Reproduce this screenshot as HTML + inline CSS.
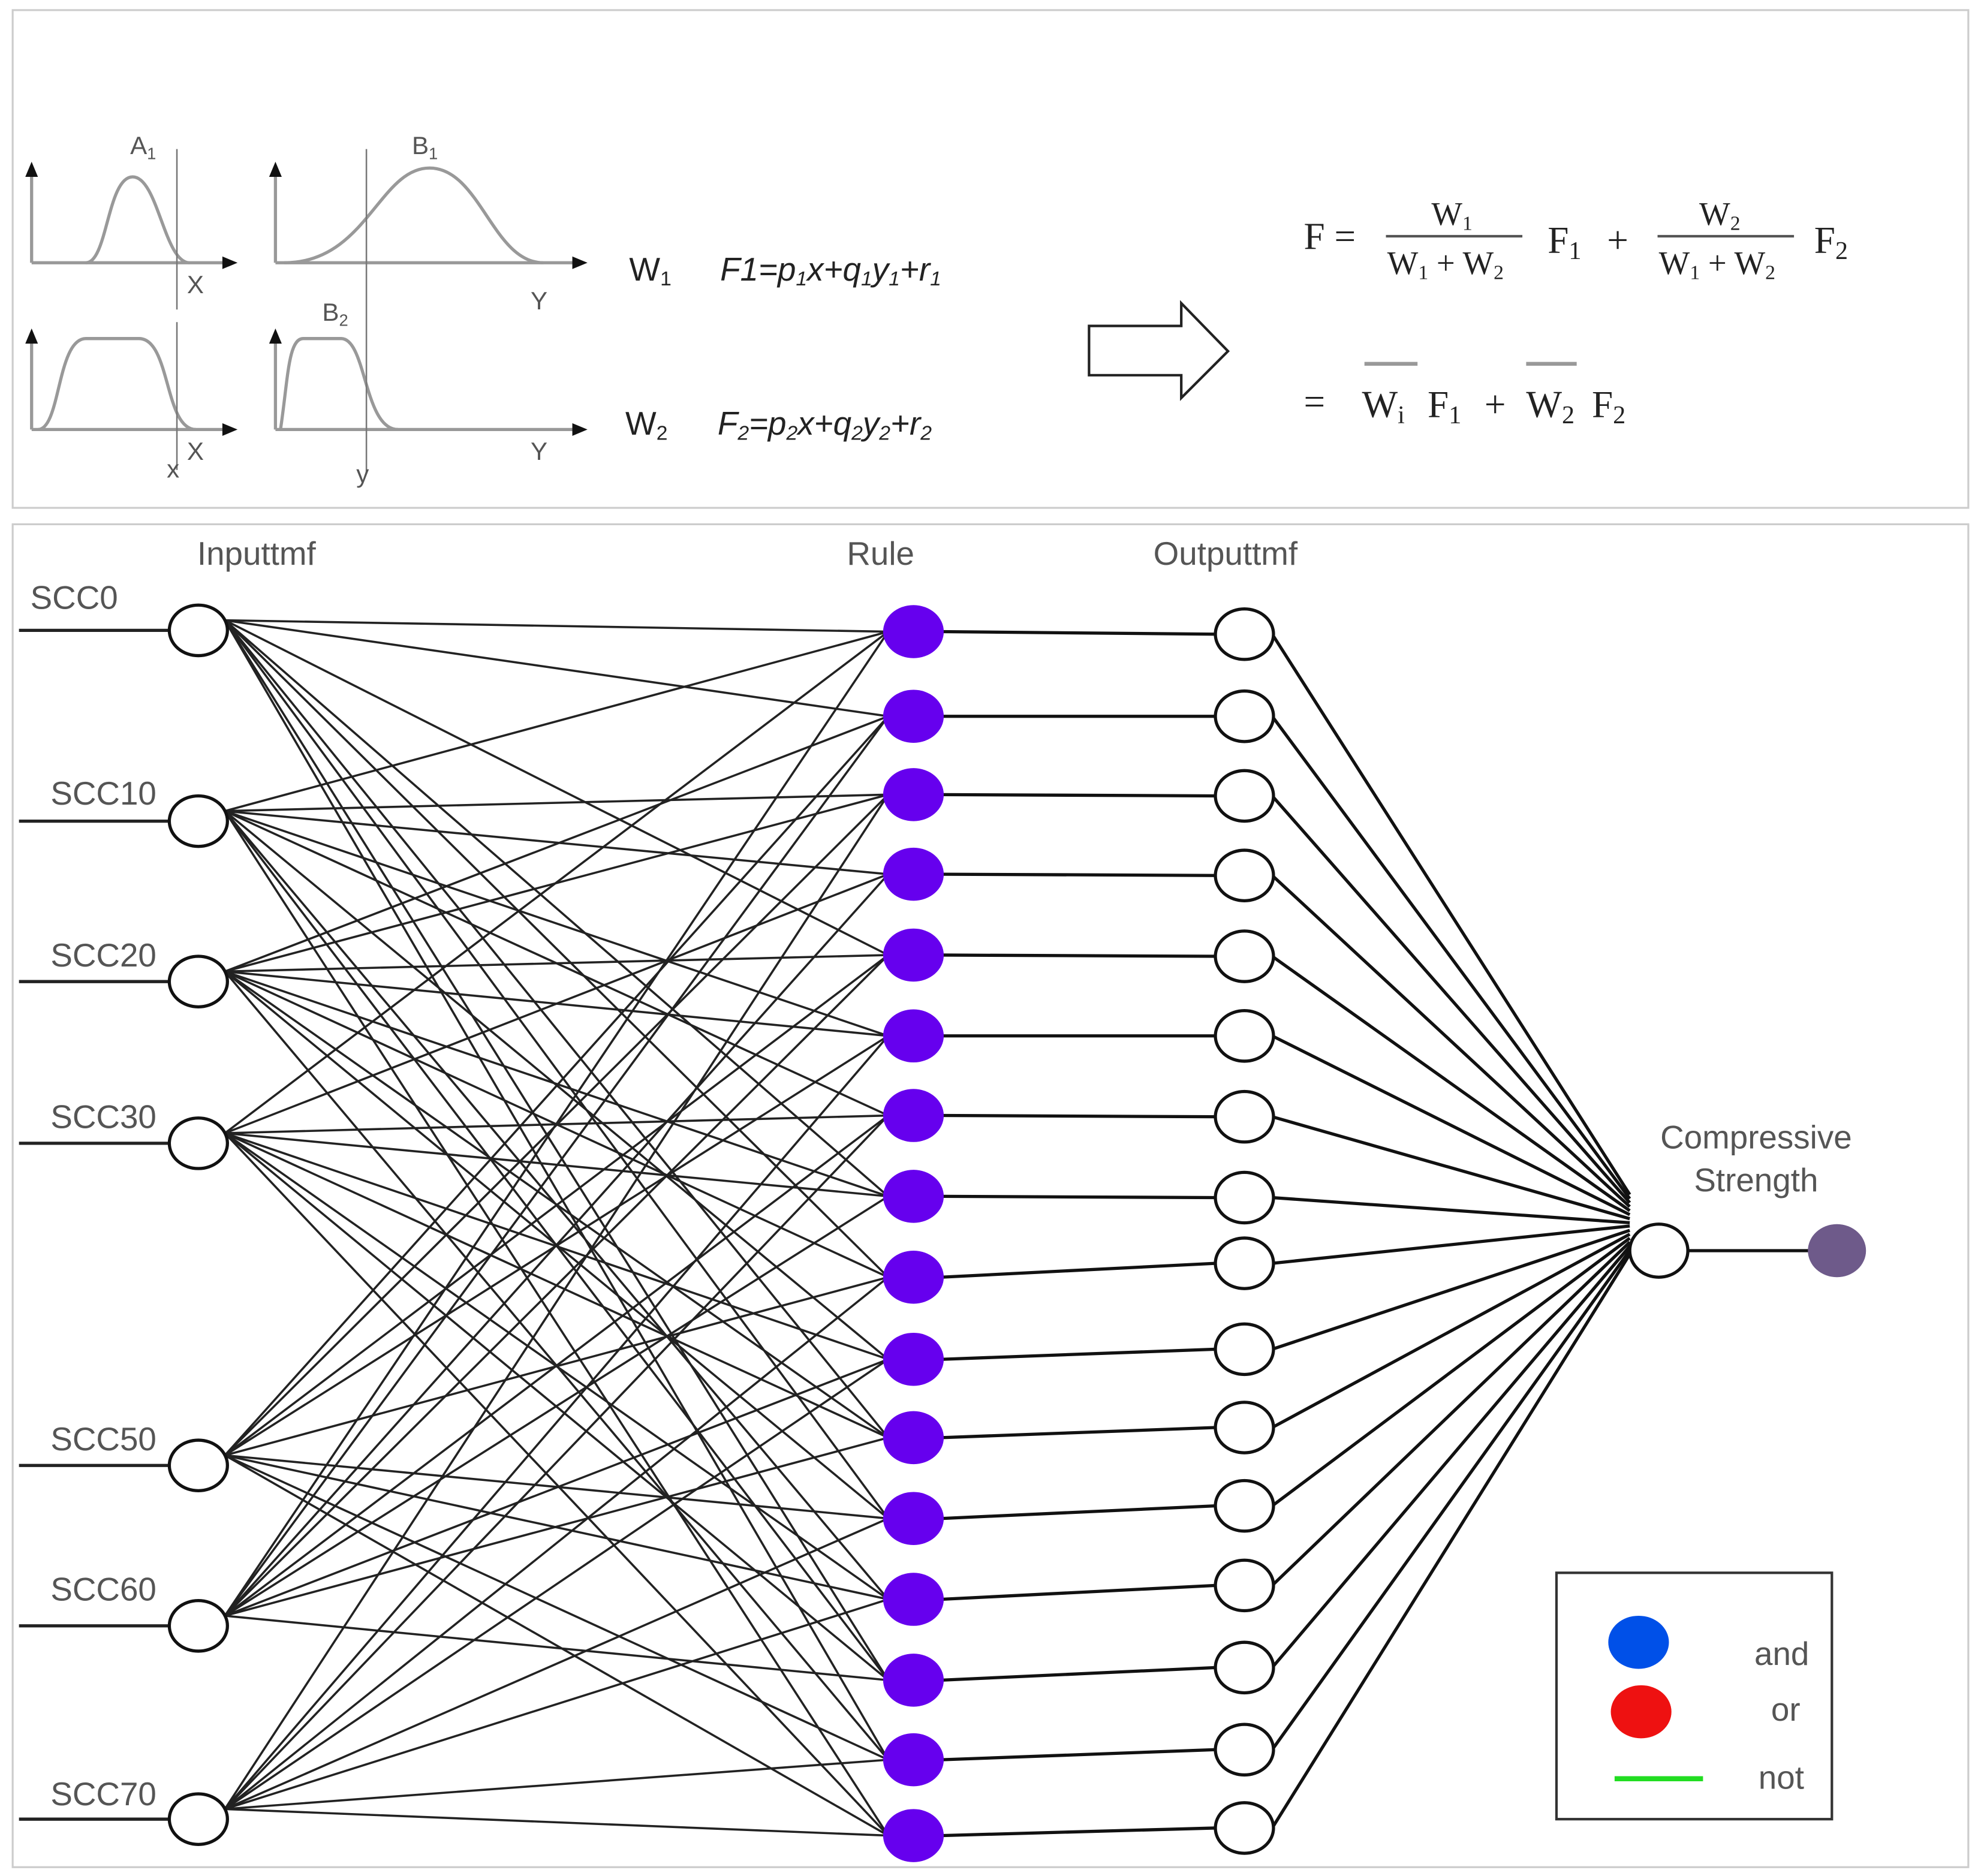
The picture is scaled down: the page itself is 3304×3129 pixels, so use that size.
<!DOCTYPE html>
<html><head><meta charset="utf-8"><style>
html,body{margin:0;padding:0;background:#fff;}
svg{display:block}
.t{font-family:"Liberation Sans",sans-serif;fill:#555;}
.s{font-family:"Liberation Serif",serif;fill:#222;}
</style></head><body>
<svg id="g" xmlns="http://www.w3.org/2000/svg" width="3304" height="3129" viewBox="0 0 1568 1485">
<rect x="0" y="0" width="1568" height="1485" fill="#fff"/>
<rect x="10" y="8" width="1548" height="394" fill="none" stroke="#ccc" stroke-width="1.5"/>
<rect x="10" y="415" width="1548" height="1063" fill="none" stroke="#ccc" stroke-width="1.5"/>
<g stroke="#999" stroke-width="2.5" fill="none">
<path d="M25 208 H180 M25 208 V138 M218 208 H455 M218 208 V138 M25 340 H180 M25 340 V270 M218 340 H455 M218 340 V270"/>
<path d="M68 208 C85 208 85 140 105 140 C125 140 130 208 150 208"/>
<path d="M225 208 C290 208 300 133 340 133 C380 133 390 208 430 208"/>
<path d="M30 340 C48 340 45 268 68 268 L110 268 C135 268 130 340 155 340"/>
<path d="M222 340 C228 300 228 268 240 268 L270 268 C290 268 288 340 315 340"/>
</g>
<g stroke="#777" stroke-width="1.2"><path d="M140 118 V245 M140 255 V372 M290 118 V375"/></g>
<g fill="#111"><path d="M25 128 l-5 12 h10z M218 128 l-5 12 h10z M25 260 l-5 12 h10z M218 260 l-5 12 h10z M188 208 l-12 -5 v10z M465 208 l-12 -5 v10z M188 340 l-12 -5 v10z M465 340 l-12 -5 v10z"/></g>
<g class="t" font-size="20"><text x="103" y="122">A<tspan font-size="13" dy="4">1</tspan></text><text x="326" y="122">B<tspan font-size="13" dy="4">1</tspan></text><text x="255" y="254">B<tspan font-size="13" dy="4">2</tspan></text>
<text x="148" y="232">X</text><text x="420" y="245">Y</text><text x="148" y="364">X</text><text x="132" y="378">x</text><text x="282" y="382">y</text><text x="420" y="364">Y</text></g>
<g class="t" font-size="26" style="fill:#222"><text x="498" y="222">W<tspan font-size="16" dy="4">1</tspan></text>
<text x="570" y="222" font-style="italic">F1=p<tspan font-size="16" dy="4">1</tspan><tspan dy="-4">x+q</tspan><tspan font-size="16" dy="4">1</tspan><tspan dy="-4">y</tspan><tspan font-size="16" dy="4">1</tspan><tspan dy="-4">+r</tspan><tspan font-size="16" dy="4">1</tspan></text>
<text x="495" y="344">W<tspan font-size="16" dy="4">2</tspan></text>
<text x="568" y="344" font-style="italic">F<tspan font-size="16" dy="4">2</tspan><tspan dy="-4">=p</tspan><tspan font-size="16" dy="4">2</tspan><tspan dy="-4">x+q</tspan><tspan font-size="16" dy="4">2</tspan><tspan dy="-4">y</tspan><tspan font-size="16" dy="4">2</tspan><tspan dy="-4">+r</tspan><tspan font-size="16" dy="4">2</tspan></text></g>
<path d="M862 258 H935 V240 L972 278 L935 315 V297 H862 Z" fill="#fff" stroke="#222" stroke-width="2"/>
<g class="s" font-size="30">
<text x="1032" y="197">F =</text>
<text x="1133" y="178" font-size="26">W<tspan font-size="16" dy="4">1</tspan></text>
<line x1="1097" y1="187" x2="1205" y2="187" stroke="#555" stroke-width="2"/>
<text x="1098" y="217" font-size="26">W<tspan font-size="16" dy="4">1</tspan><tspan dy="-4"> + W</tspan><tspan font-size="16" dy="4">2</tspan></text>
<text x="1225" y="200">F<tspan font-size="20" dy="5">1</tspan></text>
<text x="1272" y="200">+</text>
<text x="1345" y="178" font-size="26">W<tspan font-size="16" dy="4">2</tspan></text>
<line x1="1312" y1="187" x2="1420" y2="187" stroke="#555" stroke-width="2"/>
<text x="1313" y="217" font-size="26">W<tspan font-size="16" dy="4">1</tspan><tspan dy="-4"> + W</tspan><tspan font-size="16" dy="4">2</tspan></text>
<text x="1436" y="200">F<tspan font-size="20" dy="5">2</tspan></text>
<text x="1032" y="328">=</text>
<text x="1078" y="330">W<tspan font-size="20" dy="5">i</tspan></text>
<text x="1130" y="330">F<tspan font-size="20" dy="5">1</tspan></text>
<text x="1175" y="330">+</text>
<text x="1208" y="330">W<tspan font-size="20" dy="5">2</tspan></text>
<text x="1260" y="330">F<tspan font-size="20" dy="5">2</tspan></text>
<line x1="1080" y1="288" x2="1122" y2="288" stroke="#999" stroke-width="3"/>
<line x1="1208" y1="288" x2="1248" y2="288" stroke="#999" stroke-width="3"/>
</g>
<g id="lines"></g>
<g id="nodes"></g>
<g class="t" font-size="26">
<text x="203" y="447" text-anchor="middle">Inputtmf</text>
<text x="697" y="447" text-anchor="middle">Rule</text>
<text x="970" y="447" text-anchor="middle">Outputtmf</text>
<text x="1390" y="909" text-anchor="middle">Compressive</text>
<text x="1390" y="943" text-anchor="middle">Strength</text>
<text x="24" y="482">SCC0</text><text x="40" y="637">SCC10</text><text x="40" y="765">SCC20</text><text x="40" y="893">SCC30</text>
<text x="40" y="1148">SCC50</text><text x="40" y="1267">SCC60</text><text x="40" y="1429">SCC70</text>
</g>
<rect x="1232" y="1245" width="218" height="195" fill="#fff" stroke="#333" stroke-width="2"/>
<ellipse cx="1297" cy="1300" rx="24" ry="21" fill="#0050e8"/>
<ellipse cx="1299" cy="1355" rx="24" ry="21" fill="#ee1111"/>
<line x1="1278" y1="1408" x2="1348" y2="1408" stroke="#22dd22" stroke-width="4"/>
<g class="t" font-size="26"><text x="1432" y="1318" text-anchor="end">and</text><text x="1425" y="1362" text-anchor="end">or</text><text x="1428" y="1416" text-anchor="end">not</text></g>
</svg>
<script>
var NS="http://www.w3.org/2000/svg";
var L=document.getElementById("lines"),N=document.getElementById("nodes");
function el(t,a,p){var e=document.createElementNS(NS,t);for(var k in a)e.setAttribute(k,a[k]);p.appendChild(e);return e;}
var inY=[499,650,777,905,1160,1287,1440];
var rY=[500,567,629,692,756,820,883,947,1011,1076,1138,1202,1266,1330,1393,1453];
var oY=[502,567,630,693,757,820,884,948,1000,1068,1130,1192,1255,1320,1385,1447];
inY.forEach(function(y,i){
 el("line",{x1:15,y1:y,x2:133,y2:y,stroke:"#222","stroke-width":2.5},L);
 for(var j=0;j<16;j++){
  if((j*5+i*7)%16<9 || (i==0&&j==0) || (i==6&&j==15)){
   el("line",{x1:178,y1:y-8,x2:703,y2:rY[j],stroke:"#222","stroke-width":1.7},L);
  }
 }
});
rY.forEach(function(y,j){
 el("line",{x1:745,y1:y,x2:962,y2:oY[j],stroke:"#111","stroke-width":2.5},L);
});
oY.forEach(function(y){
 el("line",{x1:1007,y1:y,x2:1290,y2:970+ (y-990)*0.05,stroke:"#111","stroke-width":2.5},L);
});
el("line",{x1:1336,y1:990,x2:1432,y2:990,stroke:"#111","stroke-width":2.5},L);
inY.forEach(function(y){el("ellipse",{cx:157,cy:y,rx:23,ry:20,fill:"#fff",stroke:"#111","stroke-width":2.5},N);});
rY.forEach(function(y){el("ellipse",{cx:723,cy:y,rx:24,ry:21,fill:"#6600ee"},N);});
oY.forEach(function(y){el("ellipse",{cx:985,cy:y,rx:23,ry:20,fill:"#fff",stroke:"#111","stroke-width":2.5},N);});
el("ellipse",{cx:1313,cy:990,rx:23,ry:21,fill:"#fff",stroke:"#111","stroke-width":2.5},N);
el("ellipse",{cx:1454,cy:990,rx:23,ry:21,fill:"#6e5a8a"},N);
</script>
</body></html>
